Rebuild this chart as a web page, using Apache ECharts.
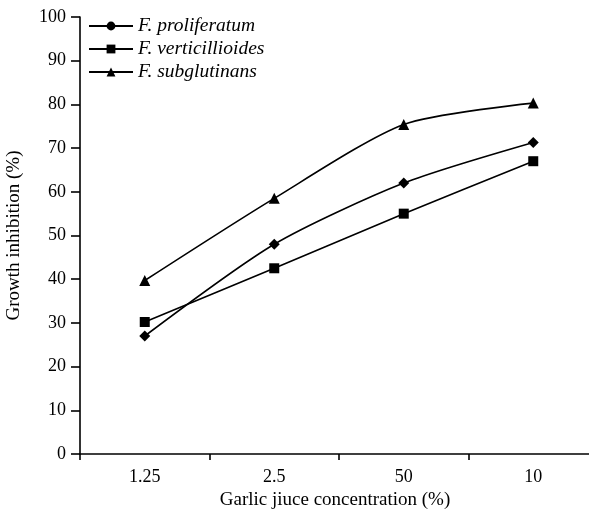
<!DOCTYPE html>
<html><head><meta charset="utf-8">
<script src="https://cdn.jsdelivr.net/npm/echarts@6/dist/echarts.min.js"></script>
<style>html,body{margin:0;padding:0;background:#fff}#c{width:589px;height:512px}</style>
</head><body><div id="c"></div>
<script>
var categories = ['1.25', '2.5', '50', '10'];
var proliferatum = [27, 48, 62, 71.3];
var verticillioides = [30.2, 42.5, 55, 67];
var subglutinans = [39.7, 58.5, 75.4, 80.3];
var seriesNames = ['F. proliferatum', 'F. verticillioides', 'F. subglutinans'];
var yTicks = [0, 10, 20, 30, 40, 50, 60, 70, 80, 90, 100];

var font = 'Liberation Serif';
var chart = echarts.init(document.getElementById('c'));
function mk(name, data, sym, size) {
  return {
    name: name, type: 'line', data: data, smooth: 0.25,
    symbol: sym, symbolSize: size,
    lineStyle: {color: '#000', width: 1.6},
    itemStyle: {color: '#000'},
    animation: false
  };
}
// F. proliferatum: legend shows a circle, plotted points are diamonds
var proliferatumData = proliferatum.map(function (v) { return {value: v, symbol: 'diamond'}; });
chart.setOption({
  backgroundColor: '#fff',
  grid: {left: 80, top: 17, bottom: 58, width: 518, containLabel: false, outerBoundsMode: 'none'},
  legend: {
    orient: 'vertical', left: 88, top: 16, padding: 0, itemGap: 3, itemWidth: 44, itemHeight: 11,
    data: seriesNames,
    textStyle: {fontFamily: font, fontStyle: 'italic', fontSize: 19.5, color: '#000'}
  },
  xAxis: {
    type: 'category', data: categories, boundaryGap: true,
    name: 'Garlic jiuce concentration (%)', nameLocation: 'middle', nameGap: 33,
    nameTextStyle: {fontFamily: font, fontSize: 19, color: '#000', padding: [0, 8, 0, 0]},
    axisLine: {lineStyle: {color: '#000', width: 1.6}},
    axisTick: {show: true, length: 6, lineStyle: {color: '#000', width: 1.6}},
    axisLabel: {fontFamily: font, fontSize: 18, color: '#000', margin: 14},
    splitLine: {show: false}
  },
  yAxis: {
    type: 'value', min: 0, max: 100, interval: 10,
    name: 'Growth inhibition (%)', nameLocation: 'middle', nameGap: 56,
    nameTextStyle: {fontFamily: font, fontSize: 19, color: '#000'},
    axisLine: {show: true, lineStyle: {color: '#000', width: 1.6}},
    axisTick: {show: true, length: 9, lineStyle: {color: '#000', width: 1.6}},
    axisLabel: {fontFamily: font, fontSize: 18, color: '#000', margin: 14,
      formatter: function (v) { return yTicks.indexOf(v) >= 0 ? String(v) : ''; }},
    splitLine: {show: false}
  },
  series: [
    mk(seriesNames[0], proliferatumData, 'circle', 11),
    mk(seriesNames[1], verticillioides, 'rect', 10),
    mk(seriesNames[2], subglutinans, 'triangle', 11)
  ]
});
</script></body></html>
